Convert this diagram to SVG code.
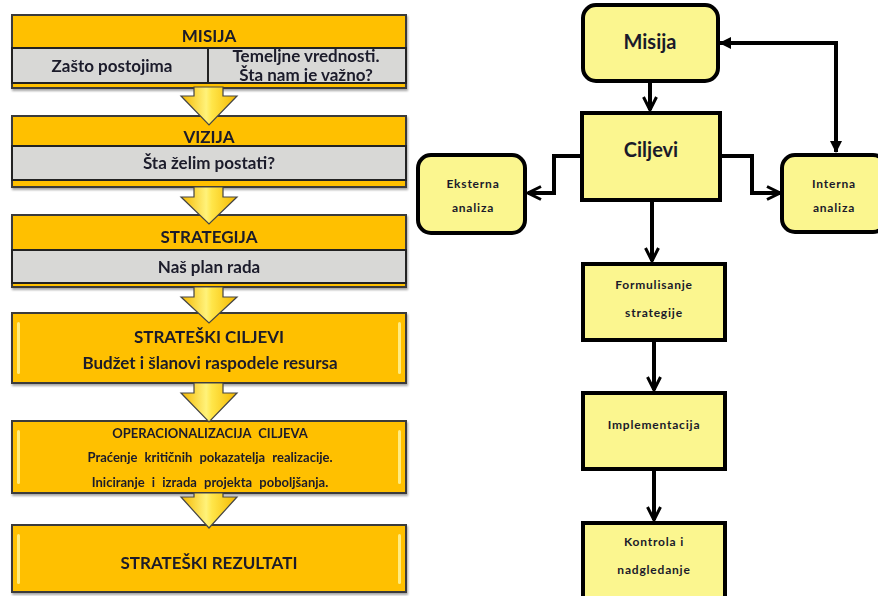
<svg xmlns="http://www.w3.org/2000/svg" width="878" height="596" viewBox="0 0 878 596">
<defs>
<style>
.band{fill:#FFC000;stroke:#3a3a3a;stroke-width:2}
.gray{fill:#D8D8D6;stroke:#222;stroke-width:2}
.lt{font-family:Lato,"Open Sans","Liberation Sans",sans-serif;font-weight:bold;fill:#1a1a2a;text-anchor:middle}
.lt15{font-size:17px}
.lt12{font-size:13px;word-spacing:4px}
.rbox{fill:#FBF68F;stroke:#000;stroke-width:4}
.rt{font-family:Lato,"Open Sans","Liberation Sans",sans-serif;font-weight:bold;fill:#1a1a2a;text-anchor:middle}
.big{font-size:20px}
.small{font-size:12px;letter-spacing:0.8px}
.con{fill:none;stroke:#000;stroke-width:4}
.yarr{fill:url(#yg);stroke:#444;stroke-width:1.2}
.hl{fill:#FFF6A0;opacity:0.8}
</style>
<linearGradient id="yg" x1="0" y1="0" x2="1" y2="0">
<stop offset="0" stop-color="#F5B800"/>
<stop offset="0.45" stop-color="#FFF27A"/>
<stop offset="0.55" stop-color="#FFE64A"/>
<stop offset="1" stop-color="#F5B800"/>
</linearGradient>
<filter id="sh" x="-5%" y="-5%" width="110%" height="120%">
<feDropShadow dx="1" dy="2" stdDeviation="1.2" flood-color="#000" flood-opacity="0.35"/>
</filter>
<marker id="open" viewBox="0 0 16 16" refX="14" refY="8" markerWidth="16" markerHeight="16" markerUnits="userSpaceOnUse" orient="auto">
<path d="M1,1.5 L14,8 L1,14.5" fill="none" stroke="#000" stroke-width="3"/>
</marker>
<marker id="fill" viewBox="0 0 12 12" refX="11" refY="6" markerWidth="12" markerHeight="12" markerUnits="userSpaceOnUse" orient="auto-start-reverse">
<path d="M0,0 L12,6 L0,12 Z" fill="#000"/>
</marker>
</defs>

<!-- LEFT COLUMN -->
<g id="misija-left" filter="url(#sh)">
<rect class="band" x="12" y="15" width="394" height="73"/>
<rect class="gray" x="12" y="48" width="196" height="35"/>
<rect class="gray" x="208" y="48" width="198" height="35"/>
<text class="lt lt15" x="209" y="42">MISIJA</text>
<text class="lt lt15" x="112" y="72">Zašto postojima</text>
<text class="lt lt15" x="306" y="62">Temeljne vrednosti.</text>
<text class="lt lt15" x="306" y="81">Šta nam je važno?</text>
</g>

<g id="vizija" filter="url(#sh)">
<rect class="band" x="12" y="116" width="394" height="71"/>
<rect class="gray" x="12" y="146" width="394" height="34"/>
<text class="lt lt15" x="209" y="143">VIZIJA</text>
<text class="lt lt15" x="209" y="169">Šta želim postati?</text>
</g>

<g id="strategija" filter="url(#sh)">
<rect class="band" x="12" y="215" width="394" height="72"/>
<rect class="gray" x="12" y="250" width="394" height="33"/>
<text class="lt lt15" x="209" y="243">STRATEGIJA</text>
<text class="lt lt15" x="209" y="273">Naš plan rada</text>
</g>

<g id="strateski-ciljevi" filter="url(#sh)">
<rect class="band" x="12" y="313" width="394" height="70"/>
<rect class="hl" x="17" y="322" width="3" height="52" rx="1.5"/>
<rect class="hl" x="398" y="322" width="3" height="52" rx="1.5"/>
<text class="lt lt15" x="209" y="343">STRATEŠKI CILJEVI</text>
<text class="lt lt15" x="210" y="369">Budžet i šlanovi raspodele resursa</text>
</g>

<g id="operacionalizacija" filter="url(#sh)">
<rect class="band" x="12" y="421" width="394" height="72"/>
<rect class="hl" x="17" y="430" width="3" height="54" rx="1.5"/>
<rect class="hl" x="398" y="430" width="3" height="54" rx="1.5"/>
<text class="lt lt12" x="210" y="438">OPERACIONALIZACIJA   CILJEVA</text>
<text class="lt lt12" x="210" y="462">Praćenje kritičnih pokazatelja realizacije.</text>
<text class="lt lt12" x="210" y="487">Iniciranje i izrada projekta poboljšanja.</text>
</g>

<g id="strateski-rezultati" filter="url(#sh)">
<rect class="band" x="12" y="525" width="394" height="67"/>
<rect class="hl" x="17" y="534" width="3" height="50" rx="1.5"/>
<rect class="hl" x="398" y="534" width="3" height="50" rx="1.5"/>
<text class="lt lt15" x="209" y="569">STRATEŠKI REZULTATI</text>
</g>

<g id="left-arrows">
<path class="yarr" d="M194,87 L223,87 L223,96 L237,96 L209,125 L181,96 L194,96 Z"/>
<path class="yarr" d="M194,187 L223,187 L223,197 L237,197 L209,224 L181,197 L194,197 Z"/>
<path class="yarr" d="M194,287 L223,287 L223,297 L237,297 L209,323 L181,297 L194,297 Z"/>
<path class="yarr" d="M194,383 L223,383 L223,393 L237,393 L209,422 L181,393 L194,393 Z"/>
<path class="yarr" d="M194,493 L223,493 L223,497 L237,497 L209,528 L181,497 L194,497 Z"/>
</g>

<!-- RIGHT DIAGRAM -->
<g id="connectors">
<path class="con" d="M650,81 L650,110" marker-end="url(#open)"/>
<path class="con" d="M582,156 L554,156 L554,193 L528,193" marker-end="url(#open)"/>
<path class="con" d="M720,156 L752,156 L752,193 L780,193" marker-end="url(#open)"/>
<path class="con" d="M652,200 L652,261" marker-end="url(#open)"/>
<path class="con" d="M654,340 L654,390" marker-end="url(#open)"/>
<path class="con" d="M654,469 L654,520" marker-end="url(#open)"/>
<path class="con" d="M836,152 L836,43 L720,43" marker-start="url(#fill)" marker-end="url(#fill)"/>
</g>

<g id="misija">
<rect class="rbox" x="583" y="5" width="135" height="76" rx="13"/>
<text class="rt big" x="650" y="49">Misija</text>
</g>

<g id="ciljevi">
<rect class="rbox" x="582" y="113" width="138" height="87"/>
<text class="rt big" x="651" y="157">Ciljevi</text>
</g>

<g id="eksterna">
<rect class="rbox" x="418" y="155" width="107" height="78" rx="13"/>
<text class="rt small" x="473" y="188">Eksterna</text>
<text class="rt small" x="473" y="212">analiza</text>
</g>

<g id="interna">
<rect class="rbox" x="782" y="155" width="104" height="77" rx="13"/>
<text class="rt small" x="834" y="188">Interna</text>
<text class="rt small" x="834" y="212">analiza</text>
</g>

<g id="formulisanje">
<rect class="rbox" x="583" y="264" width="142" height="76"/>
<text class="rt small" x="654" y="289">Formulisanje</text>
<text class="rt small" x="654" y="317">strategije</text>
</g>

<g id="implementacija">
<rect class="rbox" x="583" y="393" width="142" height="76"/>
<text class="rt small" x="654" y="429">Implementacija</text>
</g>

<g id="kontrola">
<rect class="rbox" x="583" y="523" width="142" height="80"/>
<text class="rt small" x="654" y="546">Kontrola i</text>
<text class="rt small" x="654" y="574">nadgledanje</text>
</g>
</svg>
